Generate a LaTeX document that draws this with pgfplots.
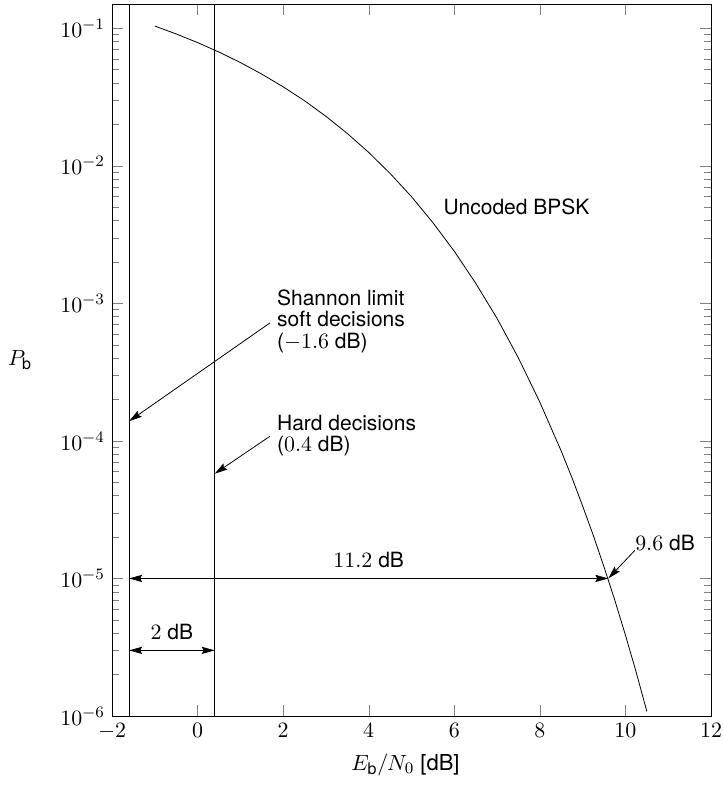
\documentclass[border=0pt]{standalone}
\usepackage[no-math]{fontspec}
\setmainfont{TeX Gyre Heros}
\usepackage{pgfplots}
\pgfplotsset{compat=1.18}
\usetikzlibrary{arrows.meta}
\begin{document}
\begin{tikzpicture}[>={Stealth[length=6.5pt,width=3.6pt,inset=1pt]},
  every node/.style={font=\fontsize{10.5}{10.6}\selectfont}]
\begin{axis}[
  name=ax,
  scale only axis, width=299.5pt, height=356pt,
  ymode=log, xmin=-2, xmax=12, ymin=1e-6, ymax=0.15,
  xtick={-2,0,2,4,6,8,10,12},
  ytick={1e-6,1e-5,1e-4,1e-3,1e-2,1e-1},
  major tick length=5.5pt, minor tick length=3.5pt,
  tick label style={font=\fontsize{11}{13}\selectfont},
  label style={font=\fontsize{11}{13}\selectfont},
  xlabel={$E_{\mbox{\fontsize{8}{9}\selectfont b}}/N_0$ [dB]},
  ylabel={$P_{\mbox{\fontsize{8}{9}\selectfont b}}$},
  xlabel style={at={(rel axis cs:0.5,0)}, anchor=center, yshift=-24.5pt, xshift=-3pt},
  ylabel style={at={(rel axis cs:0,0.5)}, anchor=center, rotate=-90, xshift=-46pt},
  clip=false,
]
% uncoded BPSK
\addplot[black, no marks] coordinates {
(-1,0.1037) (-0.5,0.0909) (0,0.07865) (0.5,0.0671) (1,0.0563) (1.5,0.0464)
(2,0.0375) (2.5,0.0297) (3,0.02288) (3.5,0.01717) (4,0.0125) (4.5,0.00879)
(5,0.00596) (5.5,0.00386) (6,0.00239) (6.5,0.0014) (7,7.77e-4) (7.5,4.0e-4)
(8,1.91e-4) (8.5,8.42e-5) (8.75,5.40e-5) (9,3.36e-5) (9.25,2.05e-5)
(9.5,1.21e-5) (9.75,6.97e-6) (10,3.87e-6) (10.25,2.09e-6) (10.5,1.08e-6)
};
% limits
\addplot[black, no marks] coordinates {(-1.6,1e-6) (-1.6,0.15)};
\addplot[black, no marks] coordinates {(0.4,1e-6) (0.4,0.15)};

\node[anchor=west, inner sep=0pt, align=left]
  at (axis cs:1.85,7.4e-4) {Shannon limit\\soft decisions\\($-1.6$ dB)};
\draw[->] (axis cs:1.69,7.2e-4) -- (axis cs:-1.6,1.39e-4);

\node[anchor=west, inner sep=0pt, align=left]
  at (axis cs:1.85,1.1e-4) {Hard decisions\\($0.4$ dB)};
\draw[->] (axis cs:1.69,1.08e-4) -- (axis cs:0.4,5.77e-5);

\node[anchor=west, inner sep=0pt] at (axis cs:5.74,5e-3) {Uncoded BPSK};

\draw[<->] (axis cs:-1.6,1e-5) -- (axis cs:9.6,1e-5);
\node[anchor=south, inner sep=0pt, yshift=5pt] at (axis cs:4.0,1e-5) {$11.2$ dB};

\draw[<->] (axis cs:-1.6,3e-6) -- (axis cs:0.4,3e-6);
\node[anchor=south, inner sep=0pt, yshift=5pt] at (axis cs:-0.6,3e-6) {$2$ dB};

\node[anchor=west, inner sep=0pt] at (axis cs:10.22,1.8e-5) {$9.6$ dB};
\draw[->] (axis cs:10.22,1.6e-5) -- (axis cs:9.6,1e-5);
\end{axis}
\pgfresetboundingbox
\path ([xshift=-56pt,yshift=2pt]ax.north west) rectangle ([xshift=6pt,yshift=-36.5pt]ax.south east);
\end{tikzpicture}
\end{document}
